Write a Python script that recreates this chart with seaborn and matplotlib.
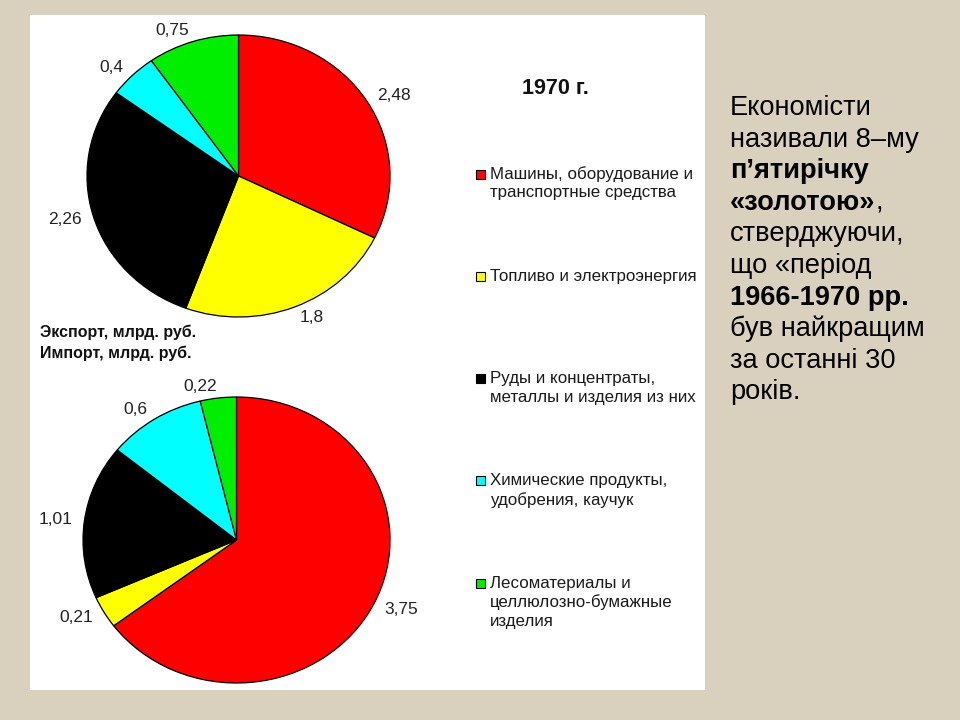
import matplotlib
matplotlib.use("Agg")
import matplotlib.pyplot as plt
import seaborn as sns
from matplotlib.patches import Rectangle

# ---------------- data ----------------
categories = [
    "Машины, оборудование и\nтранспортные средства",
    "Топливо и электроэнергия",
    "Руды и концентраты,\nметаллы и изделия из них",
    "Химические продукты,\nудобрения, каучук",
    "Лесоматериалы и\nцеллюлозно-бумажные\nизделия",
]
export_values = [2.48, 1.8, 2.26, 0.4, 0.75]
import_values = [3.75, 0.21, 1.01, 0.6, 0.22]
export_labels = ["2,48", "1,8", "2,26", "0,4", "0,75"]
import_labels = ["3,75", "0,21", "1,01", "0,6", "0,22"]
colors = ["#ff0000", "#ffff00", "#000000", "#00ffff", "#00ee00"]
title = "1970 г."
export_title = "Экспорт, млрд. руб."
import_title = "Импорт, млрд. руб."
side_lines = [
    ("Економісти", "normal"),
    ("називали 8–му", "normal"),
    ("п’ятирічку", "bold"),
    ("«золотою»", "bold"),
    ("стверджуючи,", "normal"),
    ("що «період", "normal"),
    ("1966-1970 рр.", "bold"),
    ("був найкращим", "normal"),
    ("за останні 30", "normal"),
    ("років.", "normal"),
]

# ---------------- style ----------------
sns.set_style("white")
plt.rcParams["font.family"] = ["Liberation Sans", "DejaVu Sans"]
palette = sns.color_palette(colors)

W, H = 960, 720
fig = plt.figure(figsize=(9.6, 7.2), dpi=100, facecolor="#d9d1be")

# overlay axes in pixel coordinates
ax0 = fig.add_axes([0, 0, 1, 1], zorder=0)
ax0.set_xlim(0, W)
ax0.set_ylim(H, 0)
ax0.axis("off")
ax0.add_patch(Rectangle((30, 15), 675, 675, facecolor="white", edgecolor="none"))


def pie_axes(x0, y0, x1, y1):
    ax = fig.add_axes([x0 / W, (H - y1) / H, (x1 - x0) / W, (y1 - y0) / H], zorder=1)
    return ax


def draw_pie(ax, values, labels):
    ax.pie(values, labels=labels, colors=palette, startangle=90, counterclock=False,
           labeldistance=1.08,
           wedgeprops=dict(edgecolor="black", linewidth=0.9),
           textprops=dict(fontsize=12.5, color="#222222"))
    ax.set_aspect("auto")
    ax.set_xlim(-1, 1)
    ax.set_ylim(-1, 1)


ax1 = pie_axes(87, 35, 390, 317)
draw_pie(ax1, export_values, export_labels)
ax2 = pie_axes(83, 397, 390, 683)
draw_pie(ax2, import_values, import_labels)

# titles
ax0.text(555, 88, title, fontsize=15.5, fontweight="bold", ha="center", va="center",
         color="#111111")
ax0.text(40, 332, export_title, fontsize=11.5, fontweight="bold", ha="left", va="center",
         color="#111111")
ax0.text(40, 353, import_title, fontsize=11.5, fontweight="bold", ha="left", va="center",
         color="#111111")

# legend (manual, in pixel layout)
for i, (cat, col) in enumerate(zip(categories, palette)):
    y = 174 + i * 102.3
    ax0.add_patch(Rectangle((476, y - 4.5), 9, 9, facecolor=col, edgecolor="black",
                            linewidth=0.8))
    for j, line in enumerate(cat.split("\n")):
        ax0.text(490, y + j * 19, line, fontsize=12.2, ha="left", va="center",
                 color="#1a1a1a")

# side text
for k, (line, weight) in enumerate(side_lines):
    yb = 115 + k * 31.6
    t = ax0.text(730, yb, line, fontsize=19.6, fontweight=weight, ha="left",
                 va="baseline", color="black")
    if line == "«золотою»":
        ax0.annotate(",", xy=(1, 0), xycoords=t, fontsize=19.6, ha="left",
                     va="bottom", color="black")

fig.savefig("out.png", dpi=100, facecolor=fig.get_facecolor())
